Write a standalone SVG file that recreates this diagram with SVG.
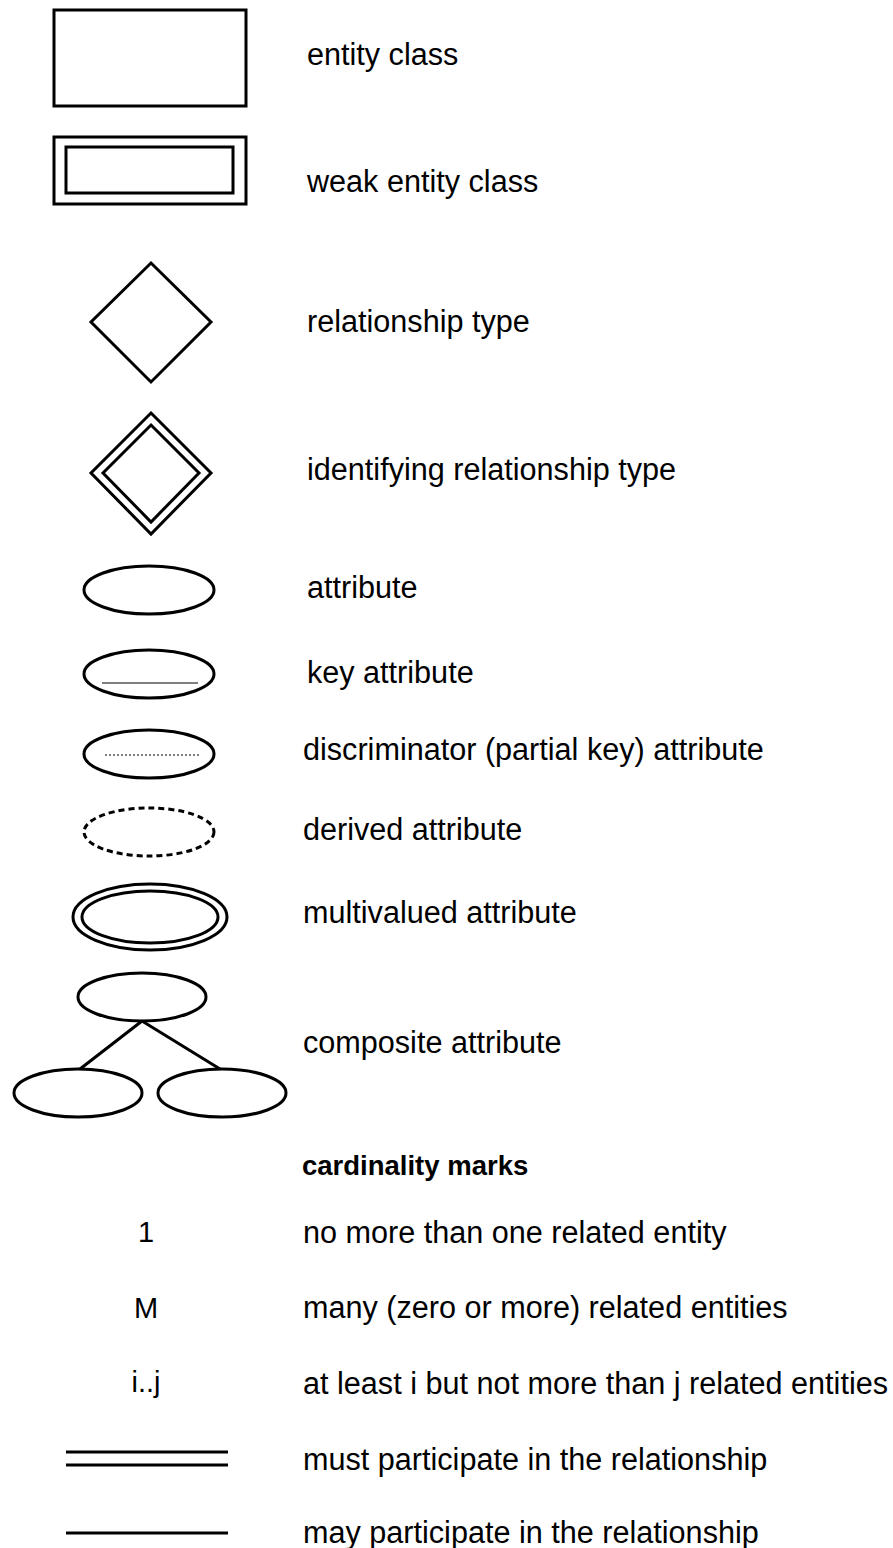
<svg xmlns="http://www.w3.org/2000/svg" width="893" height="1548" viewBox="0 0 893 1548">
<style>
.s{fill:none;stroke:#000;stroke-width:3}
.t{font-family:"Liberation Sans",Arial,sans-serif;font-size:30.6px;fill:#000}
.b{font-family:"Liberation Sans",Arial,sans-serif;font-size:27.5px;font-weight:bold;fill:#000}
.m{font-family:"Liberation Sans",Arial,sans-serif;font-size:29px;fill:#000;text-anchor:middle}
</style>
<rect width="893" height="1548" fill="#fff"/>
<g id="entity"><rect class="s" x="54" y="10" width="192" height="96"/><text class="t" x="307" y="65">entity class</text></g>
<g id="weak-entity"><rect class="s" x="54" y="137" width="192" height="67"/><rect class="s" x="66" y="147" width="167" height="46"/><text class="t" x="307" y="192">weak entity class</text></g>
<g id="relationship"><polygon class="s" points="151,263 211,322 151,382 91,322"/><text class="t" x="307" y="332">relationship type</text></g>
<g id="identifying"><polygon class="s" points="151,413 211,473 151,534 91,473"/><polygon class="s" points="151,425 199,473 151,522 103,473"/><text class="t" x="307" y="480">identifying relationship type</text></g>
<g id="attribute"><ellipse class="s" cx="149" cy="590" rx="65" ry="24"/><text class="t" x="307" y="598">attribute</text></g>
<g id="key-attribute"><ellipse class="s" cx="149" cy="674" rx="65" ry="24"/><line x1="102" y1="683" x2="198" y2="683" stroke="#000" stroke-width="1"/><text class="t" x="307" y="683">key attribute</text></g>
<g id="discriminator"><ellipse class="s" cx="149" cy="754" rx="65" ry="24"/><line x1="105" y1="755" x2="200" y2="755" stroke="#000" stroke-width="1" stroke-dasharray="2,2"/><text class="t" x="303" y="760">discriminator (partial key) attribute</text></g>
<g id="derived"><ellipse class="s" cx="149" cy="832" rx="65" ry="24" stroke-dasharray="6,4"/><text class="t" x="303" y="840">derived attribute</text></g>
<g id="multivalued"><ellipse class="s" cx="150" cy="917" rx="77" ry="33"/><ellipse class="s" cx="150" cy="917" rx="68" ry="26"/><text class="t" x="303" y="923">multivalued attribute</text></g>
<g id="composite"><ellipse class="s" cx="142" cy="997" rx="64" ry="24"/><ellipse class="s" cx="78" cy="1093" rx="64" ry="24"/><ellipse class="s" cx="222" cy="1093" rx="64" ry="24"/><text class="t" x="303" y="1053">composite attribute</text></g>
<g id="connectors"><line class="s" x1="142" y1="1021" x2="80" y2="1069"/><line class="s" x1="142" y1="1021" x2="220" y2="1069"/></g>
<g id="cardinality"><text class="b" x="302" y="1175">cardinality marks</text>
<text class="m" x="146" y="1242">1</text><text class="t" x="303" y="1243">no more than one related entity</text>
<text class="m" x="146" y="1318">M</text><text class="t" x="303" y="1318">many (zero or more) related entities</text>
<text class="m" x="146" y="1392">i..j</text><text class="t" x="303" y="1394">at least i but not more than j related entities</text>
<line class="s" x1="66" y1="1452" x2="228" y2="1452"/><line class="s" x1="66" y1="1465" x2="228" y2="1465"/><text class="t" x="303" y="1470">must participate in the relationship</text>
<line class="s" x1="66" y1="1533" x2="228" y2="1533"/><text class="t" x="303" y="1543">may participate in the relationship</text></g>
</svg>
